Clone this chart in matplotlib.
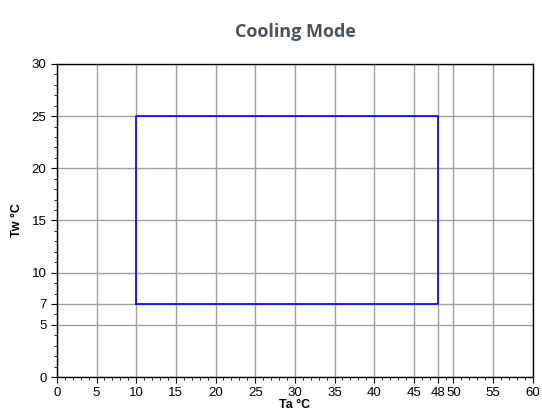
import matplotlib.pyplot as plt
from matplotlib.ticker import MultipleLocator

# Envelope de operação (modo refrigeração)
ta = [10, 48, 48, 10, 10]
tw = [7, 7, 25, 25, 7]

xticks = [0, 5, 10, 15, 20, 25, 30, 35, 40, 45, 48, 50, 55, 60]
yticks = [0, 5, 7, 10, 15, 20, 25, 30]

fig = plt.figure(figsize=(5.42, 4.18), dpi=100)
ax = fig.add_axes([0.105, 0.098, 0.878, 0.749])

ax.plot(ta, tw, color='#0000ff', linewidth=1.2, zorder=3)

ax.set_xlim(0, 60)
ax.set_ylim(0, 30)
ax.set_xticks(xticks)
ax.set_yticks(yticks)
ax.xaxis.set_minor_locator(MultipleLocator(1))
ax.yaxis.set_minor_locator(MultipleLocator(1))
ax.grid(True, which='major', color='#a0a0a0', linewidth=1)
ax.tick_params(which='both', direction='out', labelsize=9.5, colors='black')
ax.tick_params(which='major', length=4)
ax.tick_params(which='minor', length=2.5)
for lbl in ax.get_xticklabels() + ax.get_yticklabels():
    lbl.set_family('Liberation Sans')

for s in ax.spines.values():
    s.set_color('black')
    s.set_linewidth(1)

ax.set_xlabel('Ta °C', fontsize=9, fontweight='bold', family='Liberation Sans', labelpad=0)
ax.set_ylabel('Tw °C', fontsize=9, fontweight='bold', family='Liberation Sans', labelpad=6)
fig.suptitle('Cooling Mode', x=0.545, y=0.945, fontsize=13, fontweight='bold',
             color='#4a545c', family='Open Sans')

plt.savefig('out.png', dpi=100)
